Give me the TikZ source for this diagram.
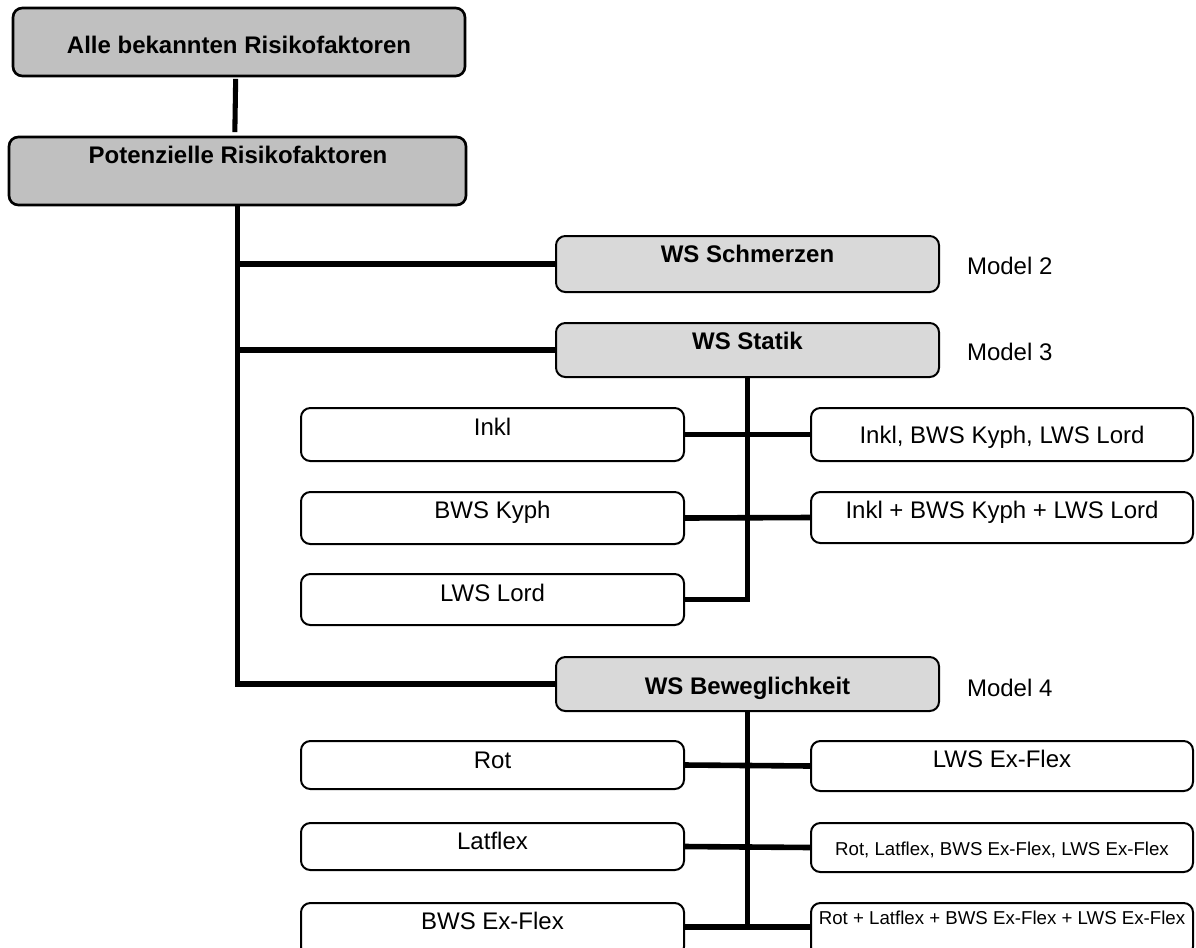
\documentclass[tikz,border=0pt]{standalone}
\usepackage{fontspec}
\setmainfont{Liberation Sans}
\usetikzlibrary{fit}
\definecolor{topgray}{RGB}{192,192,192}
\definecolor{wsgray}{RGB}{217,217,217}
\begin{document}
\begin{tikzpicture}[x=0.75pt,y=-0.75pt,
  box/.style={draw=black, line width=1.5pt, rounded corners=7pt, inner sep=0pt, outer sep=0pt},
  topbox/.style={box, fill=topgray, line width=2pt},
  wsbox/.style={box, fill=wsgray},
  leaf/.style={box, fill=white},
  lbl/.style={anchor=base, inner sep=0pt, outer sep=0pt, font=\fontsize{18}{21}\selectfont},
  boldlbl/.style={lbl, font=\fontsize{18}{21}\selectfont\bfseries},
  smalllbl/.style={lbl, font=\fontsize{14}{17}\selectfont},
  modellbl/.style={lbl, anchor=base west},
  conn/.style={draw=black, line width=4.2pt}
]
\useasboundingbox (0,0) rectangle (1196,947);
\clip (0,0) rectangle (1196,947);

% --- upper levels
\node[topbox, fit={(13,8) (465,76)}] (alle) {};
\node[boldlbl] (alle-t) at (239,53.5) {Alle bekannten Risikofaktoren};
\node[topbox, fit={(9,137) (466,205)}] (pot) {};
\node[boldlbl] (pot-t) at (238,163) {Potenzielle Risikofaktoren};

% --- model groups
\node[wsbox, fit={(556,236) (939,292)}] (schm) {};
\node[boldlbl] (schm-t) at (747.5,262) {WS Schmerzen};
\node[wsbox, fit={(556,323) (939,377)}] (stat) {};
\node[boldlbl] (stat-t) at (747.5,349) {WS Statik};
\node[wsbox, fit={(556,657) (939,711)}] (bew) {};
\node[boldlbl] (bew-t) at (747.5,694) {WS Beweglichkeit};

\node[modellbl] (m2) at (967,274.5) {Model 2};
\node[modellbl] (m3) at (967,360) {Model 3};
\node[modellbl] (m4) at (967,696) {Model 4};

% --- static variables
\node[leaf, fit={(301,408) (684,461)}] (inkl) {};
\node[lbl] (inkl-t) at (492.5,435) {Inkl};
\node[leaf, fit={(301,492) (684,544)}] (kyph) {};
\node[lbl] (kyph-t) at (492.5,518.5) {BWS Kyph};
\node[leaf, fit={(301,574) (684,625)}] (lord) {};
\node[lbl] (lord-t) at (492.5,601) {LWS Lord};
\node[leaf, fit={(811,408) (1193,461)}] (statA) {};
\node[lbl] (statA-t) at (1002,443) {Inkl, BWS Kyph, LWS Lord};
\node[leaf, fit={(811,492) (1193,543)}] (statB) {};
\node[lbl] (statB-t) at (1002,518) {Inkl + BWS Kyph + LWS Lord};

% --- mobility variables
\node[leaf, fit={(301,741) (684,789)}] (rot) {};
\node[lbl] (rot-t) at (492.5,768) {Rot};
\node[leaf, fit={(301,823) (684,870)}] (lat) {};
\node[lbl] (lat-t) at (492.5,849) {Latflex};
\node[leaf, fit={(301,903) (684,956)}] (bex) {};
\node[lbl] (bex-t) at (492.5,929) {BWS Ex-Flex};
\node[leaf, fit={(811,741) (1193,791)}] (lex) {};
\node[lbl] (lex-t) at (1002,767) {LWS Ex-Flex};
\node[leaf, fit={(811,823) (1193,872)}] (bewA) {};
\node[smalllbl] (bewA-t) at (1002,855) {Rot, Latflex, BWS Ex-Flex, LWS Ex-Flex};
\node[leaf, fit={(811,903) (1193,956)}] (bewB) {};
\node[smalllbl] (bewB-t) at (1002,924) {Rot + Latflex + BWS Ex-Flex + LWS Ex-Flex};

% --- connectors
\draw[conn, line width=3.8pt] ([xshift=-2.5pt,yshift=-2.2pt]alle.south) -- ([xshift=-2pt,yshift=3.7pt]pot.north);
\draw[conn] (pot.south) |- (bew.west);
\draw[conn] (pot.south |- schm.west) -- (schm.west);
\draw[conn] (pot.south |- stat.west) -- (stat.west);

\draw[conn] (stat.south) |- (lord.east);
\draw[conn] (inkl.east) -- (statA.west);
\draw[conn] (kyph.east) -- (statB.west);

\draw[conn] (bew.south) -- (bew.south |- 0,927);
\draw[conn] (rot.east) -- (lex.west);
\draw[conn] (lat.east) -- (bewA.west);
\draw[conn] (bex.east |- 0,927) -- (bewB.west |- 0,927);
\end{tikzpicture}
\end{document}
